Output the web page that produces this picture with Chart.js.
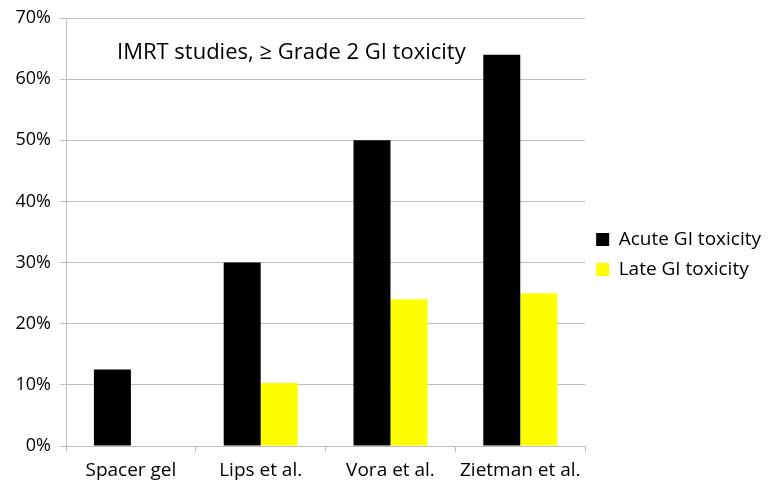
<!DOCTYPE html>
<html>
<head>
<meta charset="utf-8">
<script src="https://cdn.jsdelivr.net/npm/chart.js@4"></script>
<style>
  html, body { margin: 0; padding: 0; background: #fff; }
  #wrap { width: 771px; height: 485px; }
</style>
</head>
<body>
<div id="wrap"><canvas id="chart" width="771" height="485"></canvas></div>
<script>
const categories = ['Spacer gel', 'Lips et al.', 'Vora et al.', 'Zietman et al.'];
const acuteGI = [12.5, 30, 50, 64];
const lateGI = [null, 10.3, 24, 25];
const yTicks = [0, 10, 20, 30, 40, 50, 60, 70];
const innerTitle = 'IMRT studies, \u2265 Grade 2 GI toxicity';

const FONT = '"Open Sans", sans-serif';
const GRID = '#bdbdbd';

// title sits inside the plot area, top-left
const innerTitlePlugin = {
  id: 'innerTitle',
  afterDraw(chart) {
    const { ctx, chartArea } = chart;
    ctx.save();
    ctx.font = '22px ' + FONT;
    ctx.fillStyle = '#000';
    ctx.textBaseline = 'alphabetic';
    ctx.fillText(innerTitle, chartArea.left + 51, chartArea.top + 41);
    ctx.restore();
  }
};

// nudge the legend down a bit, it sits lower than centre in the original
const legendShift = {
  id: 'legendShift',
  afterLayout(chart) {
    chart.legend.top += 10;
    chart.legend.bottom += 10;
  }
};

new Chart(document.getElementById('chart'), {
  type: 'bar',
  data: {
    labels: categories,
    datasets: [
      { label: 'Acute GI toxicity', data: acuteGI, backgroundColor: '#000000' },
      { label: 'Late GI toxicity', data: lateGI, backgroundColor: '#ffff00' }
    ]
  },
  options: {
    responsive: false,
    animation: false,
    datasets: { bar: { categoryPercentage: 0.57, barPercentage: 1 } },
    layout: { padding: { top: 8, right: 0, left: 0, bottom: 4 } },
    plugins: {
      tooltip: { enabled: false },
      legend: {
        position: 'right',
        labels: {
          font: { family: FONT, size: 19 },
          color: '#000',
          boxWidth: 13,
          boxHeight: 13,
          padding: 11
        }
      }
    },
    scales: {
      x: {
        afterFit(axis) { axis.height = 35; },
        grid: { offset: true, drawOnChartArea: false, drawTicks: true, tickLength: 6, color: GRID },
        border: { color: GRID },
        ticks: { font: { family: FONT, size: 19 }, color: '#000', padding: 7 }
      },
      y: {
        min: 0,
        max: 70,
        afterBuildTicks(axis) { axis.ticks = yTicks.map(v => ({ value: v })); },
        afterFit(axis) { axis.width = 66; },
        grid: { color: GRID, tickLength: 6 },
        border: { color: GRID },
        ticks: { font: { family: FONT, size: 18, lineHeight: 1 }, color: '#000', padding: 9, callback: v => v + '%' }
      }
    }
  },
  plugins: [innerTitlePlugin, legendShift]
});
</script>
</body>
</html>
